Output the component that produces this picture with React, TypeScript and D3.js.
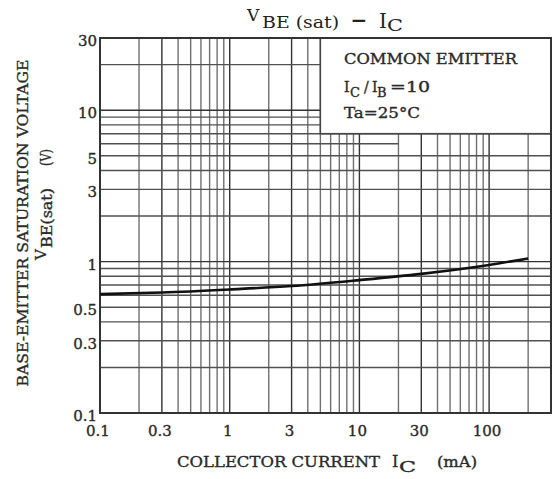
import React from "react"
import * as d3 from "d3"

// Ic (mA) vs VBE(sat) (V)
const collectorCurrent = [0.1, 0.3, 1, 3, 10, 30, 100, 200]
const vbeSat = [0.61, 0.625, 0.655, 0.69, 0.755, 0.83, 0.95, 1.05]

const xTickValues = [0.1, 0.3, 1, 3, 10, 30, 100]
const yTickValues = [0.1, 0.3, 0.5, 1, 3, 5, 10, 30]

const width = 553
const height = 479
const font = "'DejaVu Serif', 'Liberation Serif', serif"

const x = d3.scaleLog().domain([0.1, 300]).range([100, 551])
const y = d3.scaleLog().domain([0.1, 30]).range([413, 38])

const leading = (v) => Math.round(v / Math.pow(10, Math.floor(Math.log10(v) + 1e-9)))

// scanned look: text a bit heavier than the plain regular face
const ink = { fill: "#2a2a2a", stroke: "#2a2a2a", strokeWidth: 0.35 }

const App = () => {
  const points = collectorCurrent.map((c, i) => [c, vbeSat[i]])
  const line = d3
    .line()
    .x((d) => x(d[0]))
    .y((d) => y(d[1]))
    .curve(d3.curveMonotoneX)

  const boxLeft = x(5)
  const boxBottom = y(7)

  return (
    <svg
      width={width}
      height={height}
      style={{ position: "absolute", left: 0, top: 0, background: "#fff" }}
      fontFamily={font}
    >
      <rect x={0} y={0} width={width} height={height} fill="#fff" />

      {/* grid */}
      <g>
        {x.ticks().map((v) => (
          <line
            key={"gx" + v}
            x1={x(v)}
            x2={x(v)}
            y1={38}
            y2={413}
            stroke={leading(v) === 1 || leading(v) === 3 ? "#333" : "#707070"}
            strokeWidth={1.4}
          />
        ))}
        {y.ticks().map((v) => (
          <line
            key={"gy" + v}
            x1={100}
            x2={Math.abs(v - 6) < 1e-6 ? x(20) : 551}
            y1={y(v)}
            y2={y(v)}
            stroke={leading(v) === 1 ? "#333" : "#505050"}
            strokeWidth={1.4}
          />
        ))}
      </g>

      {/* legend box */}
      <rect
        x={boxLeft}
        y={38}
        width={551 - boxLeft}
        height={boxBottom - 38}
        fill="#fff"
        stroke="#444"
        strokeWidth={1.5}
      />

      {/* frame */}
      <rect x={100} y={38} width={451} height={375} fill="none" stroke="#333" strokeWidth={2} />

      {/* curve */}
      <path d={line(points)} fill="none" stroke="#111" strokeWidth={2.6} />

      {/* tick labels */}
      <g fontSize={15} {...ink}>
        {yTickValues.map((v) => (
          <text key={"ty" + v} x={97} y={y(v) + 8} textAnchor="end">
            {v}
          </text>
        ))}
        {xTickValues.map((v) => (
          <text key={"tx" + v} x={x(v) - 2} y={436} textAnchor="middle">
            {v}
          </text>
        ))}
      </g>

      {/* title */}
      <g fill="#222">
        <text x={247} y={21} fontSize={17}>V</text>
        <text x={262} y={28} fontSize={16} textLength={77} lengthAdjust="spacingAndGlyphs">
          BE (sat)
        </text>
        <text x={359} y={27} fontSize={20} fontWeight="bold" textAnchor="middle">−</text>
        <text x={379} y={28} fontSize={20}>I</text>
        <text x={387} y={31} fontSize={17} textLength={16} lengthAdjust="spacingAndGlyphs">C</text>
      </g>

      {/* legend text */}
      <g fontSize={14} {...ink}>
        <text x={344} y={64} textLength={173} lengthAdjust="spacingAndGlyphs">
          COMMON EMITTER
        </text>
        <text x={344} y={92}>I</text>
        <text x={350} y={97} fontSize={13}>C</text>
        <text x={364} y={92}>/</text>
        <text x={372} y={92}>I</text>
        <text x={377} y={97} fontSize={13}>B</text>
        <text x={390} y={92} textLength={40} lengthAdjust="spacingAndGlyphs">=10</text>
        <text x={344} y={118} textLength={76} lengthAdjust="spacingAndGlyphs">
          Ta=25°C
        </text>
      </g>

      {/* x axis title */}
      <g {...ink}>
        <text x={177} y={467} fontSize={15} textLength={203} lengthAdjust="spacingAndGlyphs">
          COLLECTOR CURRENT
        </text>
        <text x={392} y={467} fontSize={16}>I</text>
        <text x={399} y={472} fontSize={15} textLength={17} lengthAdjust="spacingAndGlyphs">C</text>
        <text x={437} y={467} fontSize={14} textLength={40} lengthAdjust="spacingAndGlyphs">
          (mA)
        </text>
      </g>

      {/* y axis title */}
      <g {...ink} transform="rotate(-90)">
        <text
          x={-223}
          y={28}
          fontSize={15}
          textAnchor="middle"
          textLength={327}
          lengthAdjust="spacingAndGlyphs"
        >
          BASE-EMITTER SATURATION VOLTAGE
        </text>
        <text x={-260} y={46} fontSize={15}>V</text>
        <text x={-248} y={52} fontSize={14} textLength={60} lengthAdjust="spacingAndGlyphs">
          BE(sat)
        </text>
        <text x={-166} y={51} fontSize={15} textLength={17} lengthAdjust="spacingAndGlyphs">
          (V)
        </text>
      </g>
    </svg>
  )
}

export default App
